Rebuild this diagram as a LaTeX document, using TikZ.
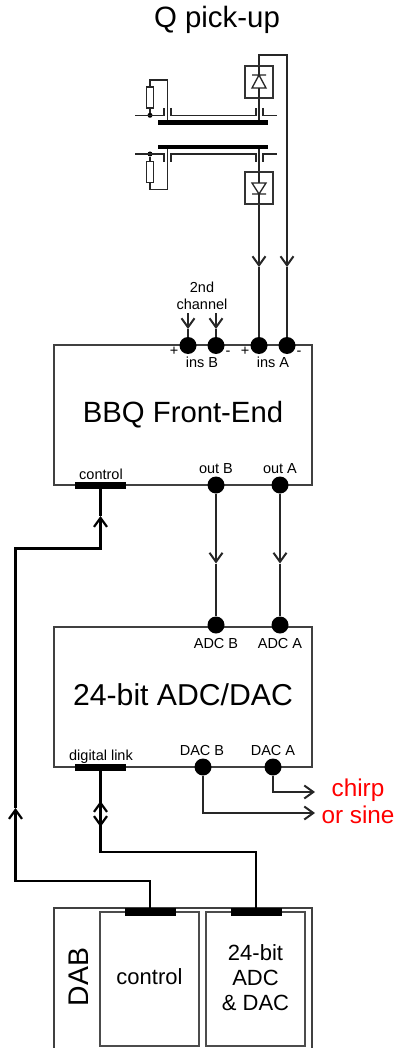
\documentclass[tikz,border=0pt]{standalone}
\usepackage{fontspec}
\setmainfont{Liberation Sans}
\usetikzlibrary{arrows.meta}
\tikzset{
  x=1pt,y=-1pt,
  thin wire/.style={draw=black!85,line width=1.3pt},
  sig/.style={thin wire,-{Straight Barb[length=9pt,width=13pt,line width=2pt]}},
  thick wire/.style={draw=black,line width=2.3pt},
  thick sig/.style={thick wire,-{Straight Barb[length=9pt,width=13pt,line width=2.2pt]}},
  blockbox/.style={draw=black!75,line width=1.2pt},
  innerbox/.style={draw=black!70,line width=1.5pt},
  port/.style={circle,fill=black,inner sep=0pt,minimum size=17pt},
  junction/.style={circle,fill=black,inner sep=0pt,minimum size=5pt},
  bus/.style={rectangle,fill=black,inner sep=0pt,minimum width=51pt,minimum height=7.5pt},
  plate/.style={rectangle,fill=black,inner sep=0pt,minimum width=110pt,minimum height=4.8pt},
  resistor/.style={rectangle,draw=black!85,line width=1.2pt,inner sep=0pt,minimum width=7pt,minimum height=21pt},
  modbox/.style={rectangle,draw=black!80,line width=1.2pt,fill=white,inner sep=0pt,minimum width=28pt,minimum height=32pt},
  tiny/.style={anchor=base,font=\fontsize{14.5}{16}\selectfont},
  mid/.style={anchor=base,font=\fontsize{22}{25}\selectfont},
  big/.style={anchor=base,font=\fontsize{29.3}{32}\selectfont},
  redtxt/.style={anchor=base,text=red,font=\fontsize{24.3}{26}\selectfont},
}
\begin{document}
\begin{tikzpicture}
\useasboundingbox (0,0) rectangle (397,1048);
% blocks
\draw[blockbox] (54,345) rectangle (312,485);
\draw[blockbox] (54,627) rectangle (312,767);
\clip (0,0) rectangle (397,1048);
\draw[blockbox] (54,1050) -- (54,908) -- (312,908) -- (312,1050);
\draw[innerbox] (100,912) rectangle (199,1046);
\draw[innerbox] (206,912) rectangle (305,1046);
% texts
\node[anchor=base,font=\fontsize{29.4}{32}\selectfont] (title) at (217,28) {Q pick-up};
\node[big] (bbq) at (183,422) {BBQ Front-End};
\node[big,font=\fontsize{30.2}{32}\selectfont] (adc) at (183,705) {24-bit ADC/DAC};
\node[anchor=base,rotate=90,font=\fontsize{28.4}{30}\selectfont] (dab) at (88,977) {DAB};
\node[mid] (ctl) at (149.5,984) {control};
\node[mid] (m1) at (255.5,960) {24-bit};
\node[mid] (m2) at (255.5,985) {ADC};
\node[mid] (m3) at (255.5,1010) {\& DAC};
\node[redtxt] (chirp) at (358,796) {chirp};
\node[redtxt] (sine) at (358,823) {or sine};
\node[tiny] (t2nd) at (202,293) {2nd};
\node[tiny] (tch) at (202,309) {channel};
\node[tiny] (tb) at (202,367) {ins B};
\node[tiny] (ta) at (273,367) {ins A};
\node[tiny] (p1) at (174,355) {+};
\node[tiny] (n1) at (228,355) {-};
\node[tiny] (p2) at (245,355) {+};
\node[tiny] (n2) at (299,355) {-};
\node[tiny] (tc) at (101,479) {control};
\node[tiny] (toB) at (216,473) {out B};
\node[tiny] (toA) at (280,473) {out A};
\node[tiny] (taB) at (216,648) {ADC B};
\node[tiny] (taA) at (280,648) {ADC A};
\node[tiny] (tdl) at (101,760) {digital link};
\node[tiny] (tdB) at (202,755) {DAC B};
\node[tiny] (tdA) at (273,755) {DAC A};
% ports
\node[port] (insBp) at (188,345.5) {};
\node[port] (insBn) at (216,345.5) {};
\node[port] (insAp) at (259,345.5) {};
\node[port] (insAn) at (287,345.5) {};
\node[port] (outB) at (216,485) {};
\node[port] (outA) at (280,485) {};
\node[port] (adcB) at (216,625) {};
\node[port] (adcA) at (280,625) {};
\node[port] (dacB) at (203,767) {};
\node[port] (dacA) at (273,767) {};
\node[bus] (busCtl) at (100.5,485.5) {};
\node[bus] (busDig) at (100.5,767.5) {};
\node[bus] (busDabC) at (150,912) {};
\node[bus] (busDabA) at (256,912) {};
% pick-up
\node[plate] (platU) at (213,122.5) {};
\node[plate] (platL) at (213,147) {};
\node[modbox] (dioU) at (259,82) {};
\node[modbox] (dioL) at (259,188) {};
\node[resistor] (rU) at (150,97.5) {};
\node[resistor] (rL) at (150,172) {};
\node[junction] (jU) at (150,115.3) {};
\node[junction] (jL) at (150,154) {};
% diodes
\draw[thin wire] (252,88) -- (266,88) -- (259,75) -- cycle (252,75) -- (266,75);
\draw[thin wire] (259,66) -- (259,75) (259,88) -- (259,98);
\draw[thin wire] (252,183) -- (266,183) -- (259,194) -- cycle (252,194) -- (266,194);
\draw[thin wire] (259,172) -- (259,183) (259,194) -- (259,204);
% gate and drain lines
\coordinate (a1) at (135,115.3); \coordinate (a2) at (164,115.3);
\draw[thin wire] (a1) -- (a2) -- (164,108);
\draw[thin wire] (171,108) -- (171,115.3) -- (256,115.3) -- (256,108);
\draw[thin wire] (263,108) -- (263,115.3) -- (277,115.3);
\coordinate (b1) at (135,154); \coordinate (b2) at (164,154);
\draw[thin wire] (b1) -- (b2) -- (164,162);
\draw[thin wire] (171,162) -- (171,154) -- (256,154) -- (256,162);
\draw[thin wire] (263,162) -- (263,154) -- (277,154);
% resistor loops
\draw[thin wire] (jU) -- (rU.south);
\draw[thin wire] (rU.north) -- (150,80) -- (167.3,80) -- (167.3,120);
\draw[thin wire] (jL) -- (rL.north);
\draw[thin wire] (rL.south) -- (150,189.5) -- (167.3,189.5) -- (167.3,149);
% diode feeds
\draw[thin wire] (dioU.south) -- (259,120);
\draw[thin wire] (dioL.north) -- (259,149);
\coordinate (tipAp) at (259,267);
\coordinate (tipAn) at (287,267);
\draw[sig] (dioL.south) -- (tipAp);
\draw[thin wire] (tipAp) -- (insAp);
\draw[sig] (dioU.north) -- (259,55) -- (287,55) -- (tipAn);
\draw[thin wire] (tipAn) -- (insAn);
% second channel
\coordinate (s1) at (188,313); \coordinate (s2) at (216,313);
\coordinate (st1) at (188,329); \coordinate (st2) at (216,329);
\draw[sig] (s1) -- (st1);
\draw[sig] (s2) -- (st2);
\draw[thin wire] (st1) -- (insBp);
\draw[thin wire] (st2) -- (insBn);
% outputs to ADC
\coordinate (tipB) at (216,563.5);
\coordinate (tipA) at (280,563.5);
\draw[sig] (outB) -- (tipB);
\draw[thin wire] (tipB) -- (adcB);
\draw[sig] (outA) -- (tipA);
\draw[thin wire] (tipA) -- (adcA);
% DAC outs
\coordinate (e1) at (315,792); \coordinate (e2) at (315,813);
\draw[sig] (dacA) -- (273,792) -- (e1);
\draw[sig] (dacB) -- (203,813) -- (e2);
% control link
\coordinate (tipCtl) at (100.5,516);
\coordinate (tipCtl2) at (15.5,808);
\draw[thick sig] (busDabC) -- (150,881) -- (15.5,881) -- (tipCtl2);
\draw[thick sig] (tipCtl2) -- (15.5,548.5) -- (100.5,548.5) -- (tipCtl);
\draw[thick wire] (tipCtl) -- (busCtl);
% digital link
\coordinate (upTip) at (100.5,801);
\coordinate (dnTip) at (100.5,827);
\draw[thick wire] (busDig) -- (upTip);
\draw[thick sig] (dnTip) -- (upTip);
\draw[thick sig] (upTip) -- (dnTip);
\draw[thick wire] (dnTip) -- (100.5,852) -- (256,852) -- (busDabA);
\end{tikzpicture}
\end{document}
